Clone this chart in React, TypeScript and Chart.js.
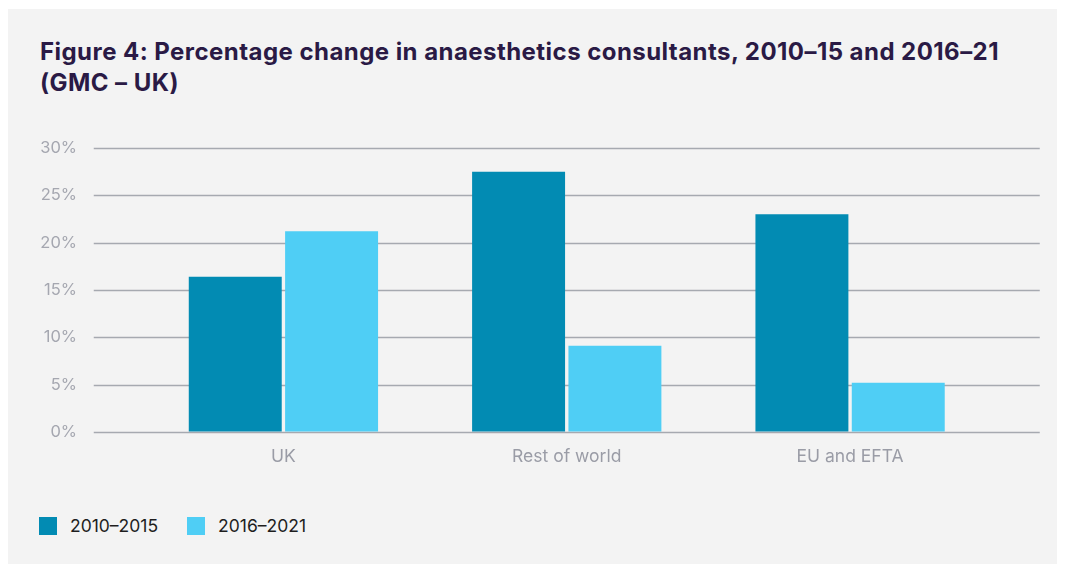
import React, { useEffect, useRef } from "react";
import { Chart, registerables } from "chart.js";

Chart.register(...registerables);

const categories = ["UK", "Rest of world", "EU and EFTA"];
const series2010_2015 = [16.4, 27.5, 23.0];
const series2016_2021 = [21.2, 9.1, 5.2];
const seriesLabels = ["2010\u20132015", "2016\u20132021"];
const seriesColors = ["#028bb3", "#4fcef5"];
const yMin = 0;
const yMax = 30;
const yStep = 5;

const FONT = "Inter, 'Noto Sans', sans-serif";

const gridPlugin = {
  id: "extendedGrid",
  beforeDatasetsDraw(chart: any) {
    const y = chart.scales.y;
    const area = chart.chartArea;
    const ctx = chart.ctx;
    const ext = 48;
    ctx.save();
    ctx.strokeStyle = "#a6a9b0";
    ctx.lineWidth = 1.3;
    y.ticks.forEach((t: any) => {
      const py = Math.round(y.getPixelForValue(t.value)) + 0.5;
      ctx.beginPath();
      ctx.moveTo(area.left - ext, py);
      ctx.lineTo(area.right + ext, py);
      ctx.stroke();
    });
    ctx.restore();
  },
};

export default function App() {
  const ref = useRef<HTMLCanvasElement | null>(null);
  useEffect(() => {
    if (!ref.current) return;
    const chart = new Chart(ref.current, {
      type: "bar",
      data: {
        labels: categories,
        datasets: [
          {
            label: seriesLabels[0],
            data: series2010_2015,
            backgroundColor: seriesColors[0],
            categoryPercentage: 0.68,
            barPercentage: 0.965,
          },
          {
            label: seriesLabels[1],
            data: series2016_2021,
            backgroundColor: seriesColors[1],
            categoryPercentage: 0.68,
            barPercentage: 0.965,
          },
        ],
      },
      options: {
        animation: false,
        responsive: false,
        maintainAspectRatio: false,
        layout: { padding: { left: 0, right: 73.25, top: 30, bottom: 0 } },
        plugins: {
          legend: { display: false },
          tooltip: { enabled: false },
        },
        scales: {
          x: {
            offset: true,
            grid: { display: false, drawTicks: false },
            border: { display: false },
            ticks: {
              color: "#9a9ca6",
              font: { family: FONT, size: 17.5 },
              padding: 14,
            },
            afterFit: (s: any) => {
              s.height = 48;
            },
          },
          y: {
            min: yMin,
            max: yMax,
            grid: {
              display: true,
              color: "rgba(0,0,0,0)",
              drawOnChartArea: false,
              drawTicks: true,
              tickLength: 60,
            },
            border: { display: false },
            ticks: {
              stepSize: yStep,
              color: "#a5a7b0",
              font: { family: FONT, size: 16.5 },
              padding: 4.75,
              callback: (v: any) => `${v}%`,
            },
            afterFit: (s: any) => {
              s.width = 133.75;
            },
          },
        },
      },
      plugins: [gridPlugin],
    });
    return () => chart.destroy();
  }, []);

  return (
    <div
      style={{
        position: "relative",
        marginTop: 1,
        width: 1057,
        height: 555,
        background: "#f3f3f3",
        overflow: "hidden",
      }}
    >
      <div
        style={{
          position: "absolute",
          left: 32,
          top: 27,
          fontFamily: "Inter, sans-serif",
          fontWeight: 700,
          fontSize: 24,
          lineHeight: "31px",
          letterSpacing: 0.45,
          color: "#2a1a45",
          width: 1020,
          whiteSpace: "nowrap",
        }}
      >
        Figure 4: Percentage change in anaesthetics consultants, 2010–15 and 2016–21
        <br />
        (GMC – UK)
      </div>
      <canvas
        ref={ref}
        width={1057}
        height={362}
        style={{ position: "absolute", left: 0, top: 109, width: 1057, height: 362 }}
      />
      <div
        style={{
          position: "absolute",
          left: 31,
          top: 506,
          display: "flex",
          alignItems: "center",
          fontFamily: FONT,
          fontSize: 17.5,
          color: "#1e1e1e",
        }}
      >
        {seriesLabels.map((l, i) => (
          <div key={l} style={{ display: "flex", alignItems: "center", marginRight: i === 0 ? 29 : 0 }}>
            <div style={{ width: 18, height: 18, background: seriesColors[i], marginRight: 13 }} />
            <span>{l}</span>
          </div>
        ))}
      </div>
    </div>
  );
}
